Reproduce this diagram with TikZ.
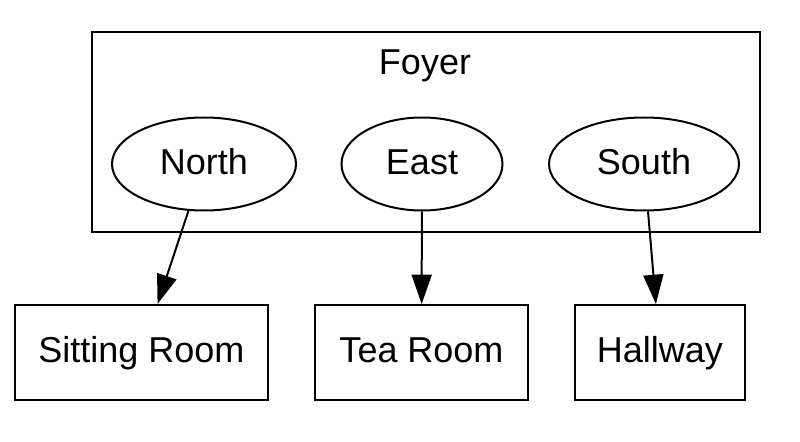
\documentclass[tikz,border=0pt]{standalone}
\usepackage{fontspec}
\setmainfont{Liberation Sans}
\usetikzlibrary{arrows.meta,shapes.geometric}

\begin{document}
\begin{tikzpicture}[x=0.75pt, y=-0.75pt, font=\fontsize{27}{32}\selectfont,
    line width=1.5pt,
    every node/.style={text height=20pt, text depth=4.4pt},
    room/.style={draw, rectangle, minimum height=71.25pt, inner sep=0pt},
    door/.style={draw, ellipse, minimum height=69.75pt, inner sep=0pt},
    arr/.style={-{Triangle[length=22pt, width=15pt]}}]
    \useasboundingbox (0,0) rectangle (800,442);
    \node[draw, rectangle, minimum width=501pt, minimum height=150pt] (foyer) at (426,132) {};
    \node (foyerlbl) at (425,64) {Foyer};
    \node[door, minimum width=138pt]   (north) at (204,164) {North};
    \node[door, minimum width=120.75pt] (east) at (422,164) {East};
    \node[door, minimum width=142.5pt] (south) at (644,164) {South};
    \node[room, minimum width=189.75pt] (sitting) at (141.5,352.5) {Sitting Room};
    \node[room, minimum width=159.75pt] (tea)     at (421.5,352.5) {Tea Room};
    \node[room, minimum width=127.5pt]  (hall)    at (660,352.5)   {Hallway};
    \draw[arr] (north) -- (sitting);
    \draw[arr] (east)  -- (tea);
    \draw[arr] (south) -- (hall);
  \end{tikzpicture}
\end{document}
